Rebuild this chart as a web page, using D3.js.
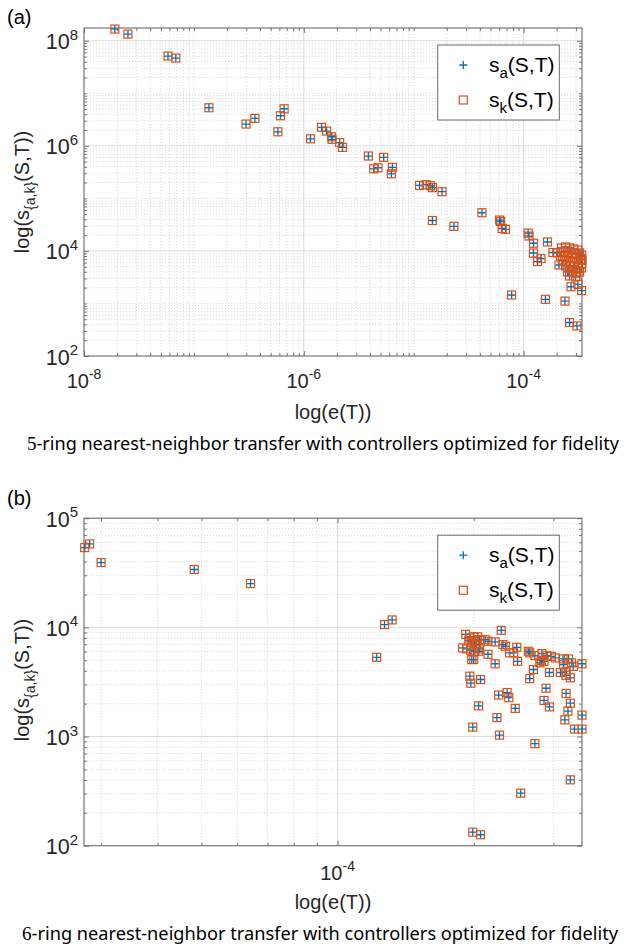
<!DOCTYPE html>
<html><head><meta charset="utf-8">
<script src="https://cdn.jsdelivr.net/npm/d3@7"></script>
<style>body{margin:0;background:#fff}svg{display:block}</style>
</head><body>
<script>
// ---------- Panel (a): 5-ring ----------
const errA = [
 1.91e-8, 2.51e-8, 5.81e-8, 6.85e-8, 1.37e-7, 2.98e-7, 3.59e-7, 5.81e-7, 6.14e-7, 6.62e-7,
 1.15e-6, 1.45e-6, 1.61e-6, 1.79e-6, 1.81e-6, 2.12e-6, 2.25e-6, 3.87e-6, 4.33e-6, 4.73e-6,
 5.33e-6, 6.40e-6, 6.26e-6, 1.13e-5, 1.30e-5, 1.42e-5, 1.48e-5, 1.81e-5, 1.48e-5, 2.32e-5,
 4.18e-5, 6.05e-5, 6.18e-5, 6.38e-5, 6.85e-5, 1.10e-4, 1.12e-4, 1.23e-4, 1.65e-4, 1.23e-4,
 1.44e-4, 1.34e-4, 1.85e-4, 2.10e-4, 2.70e-4, 3.12e-4, 3.37e-4, 7.78e-5, 1.58e-4, 2.38e-4,
 2.62e-4, 3.06e-4,
 2.21e-4, 2.41e-4, 2.62e-4, 2.85e-4, 3.10e-4, 2.31e-4, 2.51e-4, 2.73e-4, 2.97e-4, 3.23e-4,
 3.38e-4, 2.04e-4, 2.17e-4, 2.36e-4, 2.56e-4, 2.79e-4, 3.03e-4, 3.30e-4, 3.40e-4, 2.46e-4,
 2.67e-4, 2.91e-4, 3.16e-4, 3.38e-4, 2.26e-4, 2.41e-4, 2.62e-4, 2.85e-4, 3.10e-4, 3.37e-4,
 2.51e-4, 2.79e-4, 3.03e-4, 2.62e-4, 2.97e-4, 3.23e-4
];
const saA = [
 1.67e8, 1.34e8, 5.12e7, 4.69e7, 5.31e6, 2.60e6, 3.33e6, 1.85e6, 3.74e6, 5.08e6,
 1.36e6, 2.25e6, 1.91e6, 1.49e6, 1.33e6, 1.15e6, 9.35e5, 6.40e5, 3.66e5, 3.83e5,
 6.04e5, 3.90e5, 2.94e5, 1.77e5, 1.82e5, 1.74e5, 1.60e5, 1.34e5, 3.79e4, 2.94e4,
 5.33e4, 3.87e4, 3.62e4, 2.67e4, 2.58e4, 2.19e4, 1.92e4, 1.40e4, 1.48e4, 9.12e3,
 7.16e3, 6.28e3, 9.33e3, 5.40e3, 2.08e3, 2.31e3, 1.76e3, 1.45e3, 1.20e3, 1.11e3,
 434, 373,
 1.14e4, 1.19e4, 1.14e4, 1.09e4, 1.04e4, 9.57e3, 1.00e4, 9.16e3, 8.77e3, 9.16e3,
 8.39e3, 9.16e3, 8.03e3, 8.03e3, 7.69e3, 7.36e3, 7.36e3, 7.04e3, 6.74e3, 6.45e3,
 6.18e3, 6.18e3, 5.91e3, 5.66e3, 6.74e3, 5.19e3, 4.96e3, 5.19e3, 4.75e3, 4.75e3,
 3.98e3, 4.16e3, 3.81e3, 3.34e3, 3.20e3, 3.98e3
];
const skA = [
 1.67e8, 1.34e8, 5.12e7, 4.69e7, 5.31e6, 2.60e6, 3.33e6, 1.85e6, 3.74e6, 5.08e6,
 1.36e6, 2.25e6, 1.91e6, 1.49e6, 1.33e6, 1.15e6, 9.35e5, 6.40e5, 3.66e5, 3.83e5,
 6.04e5, 3.90e5, 2.94e5, 1.77e5, 1.82e5, 1.74e5, 1.60e5, 1.34e5, 3.79e4, 2.94e4,
 5.33e4, 3.87e4, 3.62e4, 2.67e4, 2.58e4, 2.19e4, 1.92e4, 1.40e4, 1.48e4, 9.12e3,
 7.16e3, 6.28e3, 9.33e3, 5.40e3, 2.08e3, 2.31e3, 1.76e3, 1.45e3, 1.20e3, 1.11e3,
 434, 373,
 1.14e4, 1.19e4, 1.14e4, 1.09e4, 1.04e4, 9.57e3, 1.00e4, 9.16e3, 8.77e3, 9.16e3,
 8.39e3, 9.16e3, 8.03e3, 8.03e3, 7.69e3, 7.36e3, 7.36e3, 7.04e3, 6.74e3, 6.45e3,
 6.18e3, 6.18e3, 5.91e3, 5.66e3, 6.74e3, 5.19e3, 4.96e3, 5.19e3, 4.75e3, 4.75e3,
 3.98e3, 4.16e3, 3.81e3, 3.34e3, 3.20e3, 3.98e3
];
const xDomainA = [1e-8, 3.4e-4];
const yDomainA = [1e2, 1.75e8];
const xTicksA = [1e-8, 1e-6, 1e-4];
const xTickLabelsA = [["10","-8"],["10","-6"],["10","-4"]];
const yTicksA = [1e2, 1e4, 1e6, 1e8];
const yTickLabelsA = [["10","2"],["10","4"],["10","6"],["10","8"]];

// ---------- Panel (b): 6-ring ----------
const errB = [
 2.76e-5, 2.83e-5, 3.00e-5, 4.82e-5, 6.42e-5, 1.22e-4, 1.27e-4, 1.32e-4, 1.92e-4, 1.96e-4,
 2.00e-4, 2.04e-4, 1.98e-4, 2.01e-4, 2.12e-4, 2.15e-4, 2.23e-4, 2.30e-4, 2.32e-4, 2.35e-4,
 1.89e-4, 1.93e-4, 1.97e-4, 2.00e-4, 2.05e-4, 2.15e-4, 2.40e-4, 2.45e-4, 2.49e-4, 1.98e-4,
 2.00e-4, 2.23e-4, 2.50e-4, 2.64e-4, 2.66e-4, 2.73e-4, 2.83e-4, 2.90e-4, 2.97e-4, 3.03e-4,
 2.82e-4, 2.86e-4, 3.15e-4, 3.24e-4, 3.29e-4, 3.47e-4, 3.32e-4, 2.71e-4, 2.94e-4, 3.11e-4,
 3.20e-4, 3.20e-4, 3.27e-4, 2.66e-4, 1.96e-4, 1.97e-4, 2.07e-4, 2.89e-4, 3.20e-4, 2.27e-4,
 2.37e-4, 2.39e-4, 2.86e-4, 2.94e-4, 3.27e-4, 2.05e-4, 2.47e-4, 3.23e-4, 3.47e-4, 2.25e-4,
 3.18e-4, 1.99e-4, 3.34e-4, 3.47e-4, 2.28e-4, 2.73e-4, 3.27e-4, 2.54e-4, 1.99e-4, 2.07e-4,
 1.95e-4, 2.03e-4, 2.06e-4, 2.06e-4, 2.80e-4, 3.16e-4
];
const saB = [
 5.38e4, 5.81e4, 3.92e4, 3.39e4, 2.52e4, 5.32e3, 1.06e4, 1.17e4, 8.63e3, 8.00e3,
 8.19e3, 8.19e3, 7.20e3, 7.45e3, 7.72e3, 7.45e3, 7.36e3, 9.39e3, 6.95e3, 6.71e3,
 6.48e3, 6.35e3, 6.17e3, 5.96e3, 6.04e3, 5.67e3, 5.84e3, 5.84e3, 6.57e3, 5.07e3,
 5.07e3, 4.64e3, 4.89e3, 6.04e3, 5.84e3, 5.51e3, 5.75e3, 5.51e3, 5.43e3, 5.25e3,
 4.99e3, 4.89e3, 5.14e3, 5.14e3, 4.73e3, 4.64e3, 4.40e3, 4.11e3, 3.86e3, 3.86e3,
 3.96e3, 3.63e3, 3.45e3, 3.39e3, 3.57e3, 3.08e3, 3.33e3, 2.77e3, 2.48e3, 2.40e3,
 2.53e3, 2.27e3, 2.14e3, 1.87e3, 2.02e3, 1.91e3, 1.81e3, 1.71e3, 1.57e3, 1.49e3,
 1.42e3, 1.22e3, 1.17e3, 1.17e3, 1.03e3, 861, 401, 303, 133, 126,
 7.60e3, 6.90e3, 7.70e3, 6.35e3, 4.73e3, 4.55e3
];
const skB = [
 5.38e4, 5.81e4, 3.92e4, 3.39e4, 2.52e4, 5.32e3, 1.06e4, 1.17e4, 8.63e3, 8.00e3,
 8.19e3, 8.19e3, 7.20e3, 7.45e3, 7.72e3, 7.45e3, 7.36e3, 9.39e3, 6.95e3, 6.71e3,
 6.48e3, 6.35e3, 6.17e3, 5.96e3, 6.04e3, 5.67e3, 5.84e3, 5.84e3, 6.57e3, 5.07e3,
 5.07e3, 4.64e3, 4.89e3, 6.04e3, 5.84e3, 5.51e3, 5.75e3, 5.51e3, 5.43e3, 5.25e3,
 4.99e3, 4.89e3, 5.14e3, 5.14e3, 4.73e3, 4.64e3, 4.40e3, 4.11e3, 3.86e3, 3.86e3,
 3.96e3, 3.63e3, 3.45e3, 3.39e3, 3.57e3, 3.08e3, 3.33e3, 2.77e3, 2.48e3, 2.40e3,
 2.53e3, 2.27e3, 2.14e3, 1.87e3, 2.02e3, 1.91e3, 1.81e3, 1.71e3, 1.57e3, 1.49e3,
 1.42e3, 1.22e3, 1.17e3, 1.17e3, 1.03e3, 861, 401, 303, 133, 126,
 7.60e3, 6.90e3, 7.70e3, 6.35e3, 4.73e3, 4.55e3
];
const xDomainB = [2.75e-5, 3.47e-4];
const yDomainB = [1e2, 1e5];
const xTicksB = [1e-4];
const xTickLabelsB = [["10","-4"]];
const yTicksB = [1e2, 1e3, 1e4, 1e5];
const yTickLabelsB = [["10","2"],["10","3"],["10","4"],["10","5"]];

// ---------- Text ----------
const panelLabels = ["(a)", "(b)"];
const xAxisTitle = "log(e(T))";
const yAxisTitle = ["log(s", "{a,k}", "(S,T))"];
const seriesNames = [["s","a","(S,T)"], ["s","k","(S,T)"]];
const captionNums = ["5", "6"];
const captionRest = "-ring nearest-neighbor transfer with controllers optimized for fidelity";

const W = 625, H = 946;
const FONT = "'Liberation Sans', Arial, Helvetica, sans-serif";
const BLUE = "#0072BD", ORANGE = "#D95319";
const svg = d3.select("body").append("svg").attr("width", W).attr("height", H)
  .style("font-family", FONT);

function minorValues(domain, majors) {
  const lo = Math.floor(Math.log10(domain[0])), hi = Math.ceil(Math.log10(domain[1]));
  const out = [];
  for (let n = lo; n <= hi; n++) for (let k = 1; k <= 9; k++) {
    const v = k * Math.pow(10, n);
    if (v >= domain[0] * 0.9999 && v <= domain[1] * 1.0001 &&
        !majors.some(m => Math.abs(m - v) / m < 1e-6)) out.push(v);
  }
  return out;
}

function drawPanel(p) {
  const L = 84, R = 582;
  const g = svg.append("g");
  const x = d3.scaleLog().domain(p.xDomain).range([L, R]);
  const y = d3.scaleLog().domain(p.yDomain).range([p.bottom, p.top]);
  const xMinor = minorValues(p.xDomain, p.xTicks);
  const yMinor = minorValues(p.yDomain, p.yTicks);
  const grid = g.append("g");
  grid.selectAll(".xm").data(xMinor).join("line")
    .attr("x1", d => x(d)).attr("x2", d => x(d)).attr("y1", p.top).attr("y2", p.bottom)
    .attr("stroke", "#d4d4d4").attr("stroke-width", 0.8).attr("stroke-dasharray", "1.2,1.8");
  grid.selectAll(".ym").data(yMinor).join("line")
    .attr("y1", d => y(d)).attr("y2", d => y(d)).attr("x1", L).attr("x2", R)
    .attr("stroke", "#d4d4d4").attr("stroke-width", 0.8).attr("stroke-dasharray", "1.2,1.8");
  grid.selectAll(".xM").data(p.xTicks.filter(v => x(v) > L + 1 && x(v) < R - 1)).join("line")
    .attr("x1", d => x(d)).attr("x2", d => x(d)).attr("y1", p.top).attr("y2", p.bottom)
    .attr("stroke", "#dcdcdc").attr("stroke-width", 1);
  grid.selectAll(".yM").data(p.yTicks.filter(v => y(v) > p.top + 1 && y(v) < p.bottom - 1)).join("line")
    .attr("y1", d => y(d)).attr("y2", d => y(d)).attr("x1", L).attr("x2", R)
    .attr("stroke", "#dcdcdc").attr("stroke-width", 1);

  const tickCol = "#6a6a6a";
  function styleAxis(sel) {
    sel.select(".domain").remove();
    sel.selectAll("text").remove();
    sel.selectAll("line").attr("stroke", tickCol).attr("stroke-width", 0.9);
  }
  const mk = (axisFn, scale, vals, len) => axisFn(scale).tickValues(vals).tickSize(len).tickFormat("");
  g.append("g").attr("transform", `translate(0,${p.bottom})`).call(mk(d3.axisTop, x, p.xTicks, 5)).call(styleAxis);
  g.append("g").attr("transform", `translate(0,${p.bottom})`).call(mk(d3.axisTop, x, xMinor, 3)).call(styleAxis);
  g.append("g").attr("transform", `translate(0,${p.top})`).call(mk(d3.axisBottom, x, p.xTicks, 5)).call(styleAxis);
  g.append("g").attr("transform", `translate(0,${p.top})`).call(mk(d3.axisBottom, x, xMinor, 3)).call(styleAxis);
  g.append("g").attr("transform", `translate(${L},0)`).call(mk(d3.axisRight, y, p.yTicks, 5)).call(styleAxis);
  g.append("g").attr("transform", `translate(${L},0)`).call(mk(d3.axisRight, y, yMinor, 3)).call(styleAxis);
  g.append("g").attr("transform", `translate(${R},0)`).call(mk(d3.axisLeft, y, p.yTicks, 5)).call(styleAxis);
  g.append("g").attr("transform", `translate(${R},0)`).call(mk(d3.axisLeft, y, yMinor, 3)).call(styleAxis);

  g.append("rect").attr("x", L).attr("y", p.top).attr("width", R - L).attr("height", p.bottom - p.top)
    .attr("fill", "none").attr("stroke", "#6a6a6a").attr("stroke-width", 1.1);

  const tl = "#262626";
  p.yTicks.forEach((v, i) => {
    const t = g.append("text").attr("x", 78).attr("y", y(v) + 8.5).attr("text-anchor", "end")
      .attr("fill", tl).attr("font-size", 21.5);
    t.append("tspan").text(p.yTickLabels[i][0]);
    t.append("tspan").attr("dy", -9.5).attr("font-size", 15).text(p.yTickLabels[i][1]);
  });
  p.xTicks.forEach((v, i) => {
    const t = g.append("text").attr("x", x(v)).attr("y", p.xTickBase).attr("text-anchor", "middle")
      .attr("fill", tl).attr("font-size", 20);
    t.append("tspan").text(p.xTickLabels[i][0]);
    t.append("tspan").attr("dy", -9).attr("font-size", 14).text(p.xTickLabels[i][1]);
  });

  g.append("text").attr("x", (L + R) / 2).attr("y", p.bottom + 63).attr("text-anchor", "middle")
    .attr("fill", tl).attr("font-size", 20).text(xAxisTitle);
  const yt = g.append("text").attr("transform", `translate(29,${p.yTitleC}) rotate(-90)`)
    .attr("text-anchor", "middle").attr("fill", tl).attr("font-size", 20);
  yt.append("tspan").text(yAxisTitle[0]);
  yt.append("tspan").attr("dy", 6).attr("font-size", 14).text(yAxisTitle[1]);
  yt.append("tspan").attr("dy", -6).text(yAxisTitle[2]);

  const pts = p.err.map((e, i) => ({e, a: p.sa[i], k: p.sk[i]}));
  g.append("g").selectAll("path").data(pts).join("path")
    .attr("d", d => `M${x(d.e) - 4},${y(d.a)}h8M${x(d.e)},${y(d.a) - 4}v8`)
    .attr("stroke", BLUE).attr("stroke-width", 1.3).attr("fill", "none");
  g.append("g").selectAll("rect").data(pts).join("rect")
    .attr("x", d => x(d.e) - 4).attr("y", d => y(d.k) - 4).attr("width", 8).attr("height", 8)
    .attr("stroke", ORANGE).attr("stroke-width", 1.2).attr("fill", "none");

  const lx = 437.7, ly = p.top + 17, lw = 121.6, lh = 75;
  const lg = g.append("g");
  lg.append("rect").attr("x", lx).attr("y", ly).attr("width", lw).attr("height", lh)
    .attr("fill", "#fff").attr("stroke", "#6a6a6a").attr("stroke-width", 1);
  const mx = 463.3;
  const r1 = ly + 20, r2 = ly + 55;
  lg.append("path").attr("d", `M${mx - 4},${r1}h8M${mx},${r1 - 4}v8`).attr("stroke", BLUE).attr("stroke-width", 1.3);
  lg.append("rect").attr("x", mx - 4).attr("y", r2 - 4).attr("width", 8).attr("height", 8)
    .attr("fill", "none").attr("stroke", ORANGE).attr("stroke-width", 1.2);
  [r1, r2].forEach((ry, i) => {
    const t = lg.append("text").attr("x", 489).attr("y", ry + 7).attr("fill", "#000").attr("font-size", 21);
    t.append("tspan").text(seriesNames[i][0]);
    t.append("tspan").attr("dy", 6).attr("font-size", 15).text(seriesNames[i][1]);
    t.append("tspan").attr("dy", -6).text(seriesNames[i][2]);
  });

  svg.append("text").attr("x", 7).attr("y", p.labelY).attr("font-size", 20).attr("fill", "#000").text(p.label);
  const c = svg.append("text").attr("x", p.capX).attr("y", p.capY).attr("text-anchor", "middle")
    .attr("font-family", "'Noto Sans', 'Open Sans', sans-serif").attr("font-size", 17.6).attr("fill", "#000")
    .attr("textLength", p.capW).attr("lengthAdjust", "spacingAndGlyphs");
  c.append("tspan").attr("font-family", "'Liberation Serif', 'DejaVu Serif', serif").attr("font-size", 18.5).text(p.capNum);
  c.append("tspan").text(captionRest);
}

drawPanel({top: 28, bottom: 356, xDomain: xDomainA, yDomain: yDomainA, xTicks: xTicksA, xTickLabels: xTickLabelsA,
  yTicks: yTicksA, yTickLabels: yTickLabelsA, err: errA, sa: saA, sk: skA, xTickBase: 388, yTitleC: 192,
  label: panelLabels[0], labelY: 24, capX: 323, capY: 450, capW: 592, capNum: captionNums[0]});
drawPanel({top: 518.2, bottom: 845.7, xDomain: xDomainB, yDomain: yDomainB, xTicks: xTicksB, xTickLabels: xTickLabelsB,
  yTicks: yTicksB, yTickLabels: yTickLabelsB, err: errB, sa: saB, sk: skB, xTickBase: 880, yTitleC: 680,
  label: panelLabels[1], labelY: 505, capX: 320, capY: 940, capW: 596, capNum: captionNums[1]});
</script>
</body></html>
